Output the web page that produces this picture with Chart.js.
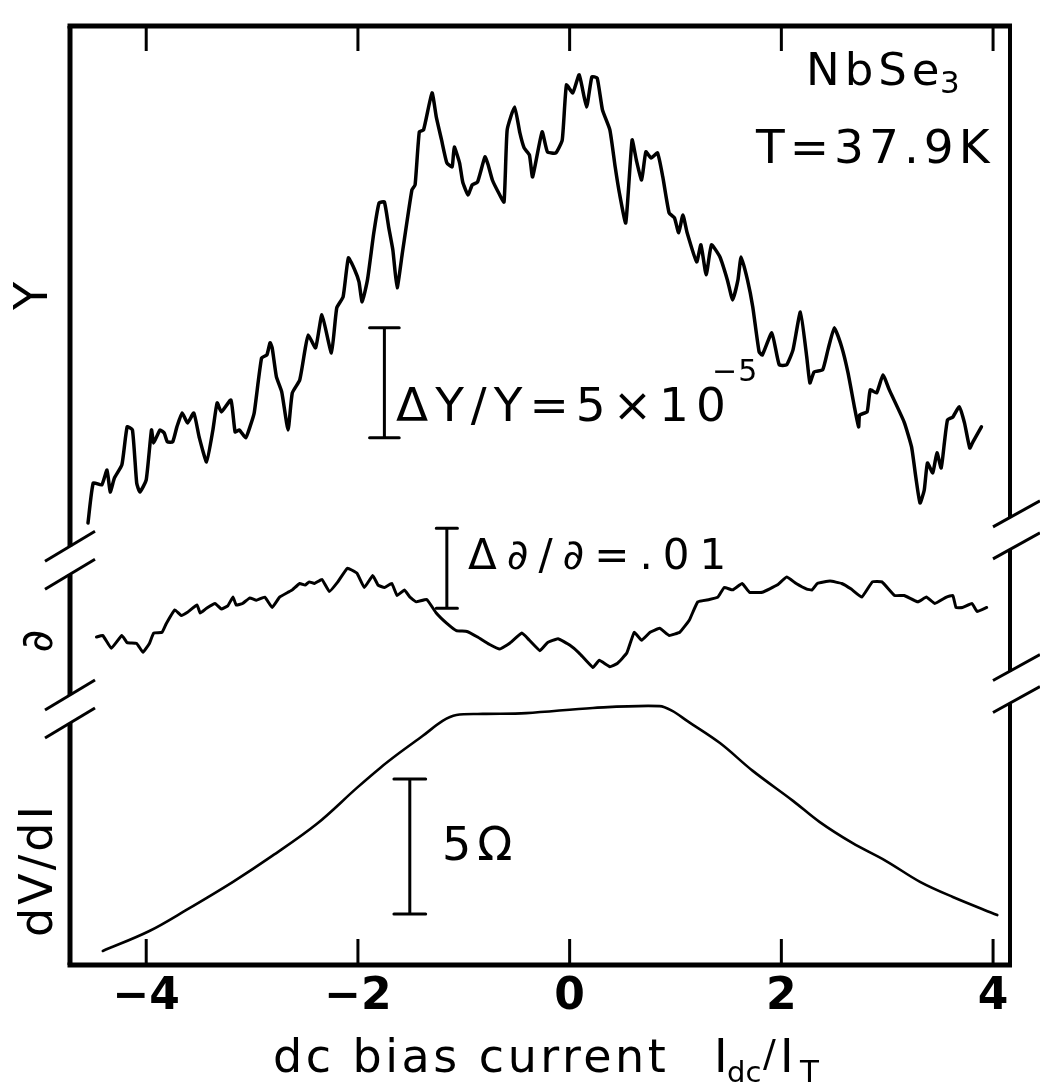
<!DOCTYPE html>
<html>
<head>
<meta charset="utf-8">
<script src="https://cdn.jsdelivr.net/npm/chart.js@4.4.1/dist/chart.umd.min.js"></script>
<style>
  html, body { margin: 0; padding: 0; background: #fff; }
</style>
</head>
<body>
<canvas id="chart" width="1040" height="1084"></canvas>
<script>
// NbSe3, T = 37.9 K: Young's modulus Y, internal friction δ and dV/dI vs dc bias current

const xTicks = [-4, -2, 0, 2, 4];
const xRange = [-4.72, 4.16];

// Y trace, ΔY/Y in units of 1e-5 (relative to the left end)
const yModX = [-4.55, -4.50, -4.42, -4.37, -4.34, -4.30, -4.23, -4.18, -4.13, -4.09, -4.06, -4.00, -3.95, -3.93, -3.87,
  -3.83, -3.80, -3.75, -3.71, -3.66, -3.61, -3.55, -3.50, -3.43, -3.37, -3.33, -3.29, -3.20, -3.16, -3.12, -3.06,
  -3.02, -2.98, -2.91, -2.86, -2.83, -2.81, -2.77, -2.72, -2.66, -2.62, -2.55, -2.50, -2.47, -2.40, -2.34, -2.25,
  -2.20, -2.14, -2.09, -2.03, -1.99, -1.96, -1.91, -1.85, -1.80, -1.75, -1.71, -1.67, -1.63, -1.58, -1.49, -1.46,
  -1.42, -1.38, -1.30, -1.26, -1.21, -1.16, -1.11, -1.09, -1.04, -1.01, -0.96, -0.92, -0.87, -0.80, -0.77, -0.73,
  -0.67, -0.62, -0.59, -0.52, -0.47, -0.43, -0.38, -0.35, -0.26, -0.21, -0.13, -0.07, -0.03, 0.03, 0.09, 0.16,
  0.21, 0.26, 0.31, 0.38, 0.43, 0.47, 0.53, 0.59, 0.63, 0.68, 0.72, 0.77, 0.83, 0.88, 0.94, 0.99, 1.03, 1.07,
  1.11, 1.20, 1.24, 1.29, 1.34, 1.42, 1.49, 1.54, 1.59, 1.62, 1.68, 1.73, 1.79, 1.82, 1.91, 1.98, 2.05, 2.11,
  2.18, 2.24, 2.27, 2.31, 2.39, 2.44, 2.50, 2.57, 2.63, 2.69, 2.73, 2.74, 2.81, 2.84, 2.90, 2.96, 3.02, 3.16,
  3.23, 3.27, 3.31, 3.35, 3.38, 3.43, 3.47, 3.51, 3.54, 3.57, 3.62, 3.68, 3.73, 3.78, 3.81, 3.89];
const yModV = [-0.14, 1.68, 1.59, 2.27, 1.27, 1.91, 2.50, 4.23, 4.09, 1.68, 1.27, 1.82, 4.09, 3.50, 4.09,
  3.95, 3.55, 3.55, 4.23, 4.86, 4.41, 4.86, 3.77, 2.64, 4.09, 5.32, 4.91, 5.45, 4.00, 4.09, 3.73,
  4.23, 4.86, 7.36, 7.50, 8.05, 7.82, 6.50, 5.82, 4.09, 5.77, 6.36, 7.73, 8.41, 7.82, 9.32, 7.59,
  9.64, 10.14, 11.91, 11.36, 10.82, 9.91, 10.91, 13.05, 14.41, 14.45, 13.32, 12.27, 10.55, 12.14, 15.00, 15.23,
  17.64, 17.73, 19.41, 18.32, 17.27, 16.23, 16.05, 16.95, 16.23, 15.36, 14.77, 15.23, 15.36, 16.50, 16.14, 15.45,
  14.86, 14.45, 17.73, 18.77, 17.59, 16.91, 16.59, 15.59, 17.64, 16.73, 16.68, 17.27, 19.77, 19.41, 20.23, 18.77,
  20.14, 20.09, 18.64, 17.73, 16.05, 14.86, 13.50, 17.27, 16.36, 15.45, 16.73, 16.45, 16.68, 15.59, 13.95, 13.73, 13.05, 13.86,
  13.05, 11.73, 12.50, 11.14, 12.50, 11.95, 10.91, 10.00, 10.91, 11.95, 10.91, 9.68, 7.64, 7.50, 8.50, 7.05, 7.05, 7.73,
  9.45, 7.41, 6.23, 6.73, 6.82, 7.73, 8.73, 7.86, 6.68, 5.14, 4.23, 4.77, 4.91, 5.91, 5.77, 6.59, 5.91, 4.45,
  3.32, 1.95, 0.77, 1.36, 2.59, 2.14, 3.05, 2.36, 3.50, 4.55, 4.68, 5.14, 4.41, 3.27, 3.55, 4.23];

// δ trace, Δδ/δ in percent
const deltaX = [-4.47, -4.41, -4.33, -4.23, -4.18, -4.09, -4.03, -3.97, -3.93, -3.85, -3.81, -3.73, -3.67, -3.61,
  -3.52, -3.49, -3.43, -3.35, -3.29, -3.23, -3.18, -3.15, -3.09, -3.02, -2.96, -2.88, -2.81, -2.74, -2.66, -2.62,
  -2.55, -2.50, -2.46, -2.41, -2.34, -2.27, -2.19, -2.10, -2.01, -1.94, -1.86, -1.81, -1.75, -1.68, -1.63, -1.56,
  -1.51, -1.45, -1.35, -1.26, -1.16, -1.07, -0.97, -0.87, -0.76, -0.66, -0.57, -0.45, -0.38, -0.28, -0.21, -0.11,
  0.00, 0.09, 0.22, 0.28, 0.38, 0.45, 0.54, 0.61, 0.68, 0.76, 0.85, 0.94, 1.04, 1.13, 1.21, 1.32, 1.40, 1.46,
  1.54, 1.63, 1.70, 1.82, 1.96, 2.05, 2.14, 2.24, 2.29, 2.34, 2.46, 2.57, 2.66, 2.76, 2.86, 2.95, 3.07, 3.16,
  3.29, 3.37, 3.45, 3.56, 3.62, 3.65, 3.71, 3.80, 3.85, 3.94];
const deltaV = [-0.21, -0.19, -0.35, -0.19, -0.28, -0.29, -0.40, -0.29, -0.16, -0.15, -0.04, 0.13, 0.06, 0.10,
  0.19, 0.09, 0.15, 0.21, 0.14, 0.18, 0.29, 0.19, 0.21, 0.28, 0.25, 0.29, 0.16, 0.29, 0.35, 0.38,
  0.46, 0.44, 0.48, 0.46, 0.51, 0.36, 0.48, 0.65, 0.59, 0.41, 0.56, 0.44, 0.41, 0.46, 0.31, 0.38,
  0.29, 0.23, 0.26, 0.09, -0.04, -0.13, -0.14, -0.21, -0.30, -0.36, -0.29, -0.16, -0.25, -0.38, -0.28, -0.23,
  -0.31, -0.41, -0.59, -0.50, -0.58, -0.54, -0.41, -0.15, -0.25, -0.15, -0.10, -0.19, -0.15, 0.00, 0.23, 0.26, 0.29, 0.41,
  0.38, 0.46, 0.35, 0.35, 0.44, 0.54, 0.46, 0.39, 0.38, 0.46, 0.49, 0.46, 0.39, 0.29, 0.48, 0.48, 0.31, 0.31,
  0.23, 0.29, 0.21, 0.29, 0.31, 0.16, 0.16, 0.21, 0.11, 0.16];

// dV/dI trace, ohms (relative to the left end)
const dvdiX = [-4.41, -3.97, -3.62, -3.18, -2.81, -2.39, -2.01, -1.79, -1.61, -1.39, -1.20, -1.07, -0.82, -0.41,
  0.22, 0.85, 0.97, 1.11, 1.42, 1.73, 2.11, 2.36, 2.67, 2.99, 3.31, 3.62, 4.04];
const dvdiV = [0.00, 0.74, 1.52, 2.56, 3.52, 4.70, 6.04, 6.78, 7.33, 7.96, 8.52, 8.74, 8.78, 8.81,
  9.00, 9.07, 8.89, 8.52, 7.70, 6.67, 5.56, 4.78, 4.00, 3.33, 2.56, 2.00, 1.33];

// scale bars: [x, lower, upper] in each trace's own units
const yModBar = [-1.75, 3.73, 8.73];
const deltaBar = [-1.16, 0.15, 1.15];
const ohmBar = [-1.51, 1.37, 6.37];

// vertical ranges of the three stacked traces
const yModRange = [-20.23, 22.45];
const deltaRange = [-4.31, 7.43];
const dvdiRange = [-0.52, 34.26];

const FONT = '"DejaVu Sans", Verdana, sans-serif';

const zip = (xs, ys) => xs.map((x, i) => ({ x: x, y: ys[i] }));

function barPoints(bar, cap) {
  const [x, lo, hi] = bar;
  return [
    { x: x - cap, y: hi }, { x: x + cap, y: hi }, { x: x, y: null },
    { x: x, y: hi }, { x: x, y: lo }, { x: x, y: null },
    { x: x - cap, y: lo }, { x: x + cap, y: lo }
  ];
}

function trace(data, axis, width, tension) {
  return {
    data: data,
    yAxisID: axis,
    borderColor: '#000',
    borderWidth: width,
    pointRadius: 0,
    tension: tension,
    spanGaps: false,
    borderJoinStyle: 'round',
    borderCapStyle: 'round'
  };
}

function line(ctx, x1, y1, x2, y2) {
  ctx.beginPath();
  ctx.moveTo(x1, y1);
  ctx.lineTo(x2, y2);
  ctx.stroke();
}

// frame with axis breaks and inward ticks
const framePlugin = {
  id: 'frame',
  afterDatasetsDraw(chart) {
    const { ctx, chartArea: a, scales } = chart;
    const yD = scales.yD;
    const leftBreaks = [0.75, -1.11].map(v => yD.getPixelForValue(v));
    const rightBreaks = [1.08, -0.84].map(v => yD.getPixelForValue(v));
    ctx.save();
    ctx.strokeStyle = '#000';
    ctx.lineCap = 'butt';

    ctx.lineWidth = 5;
    line(ctx, a.left - 2.5, a.top, a.right + 2, a.top);
    line(ctx, a.left - 2.5, a.bottom, a.right + 2, a.bottom);

    // vertical sides, interrupted at the breaks
    const side = (x, breaks, gap) => {
      let y = a.top;
      for (const b of breaks) {
        line(ctx, x, y, x, b - gap);
        y = b + gap;
      }
      line(ctx, x, y, x, a.bottom);
    };
    side(a.left, leftBreaks, 14);
    ctx.lineWidth = 4;
    side(a.right, rightBreaks, 16);

    ctx.lineWidth = 3;
    for (const b of leftBreaks) {
      for (const s of [-14, 14]) line(ctx, a.left - 25, b + s + 15, a.left + 25, b + s - 15);
    }
    for (const b of rightBreaks) {
      for (const s of [-16, 16]) line(ctx, a.right - 17, b + s + 9, a.right + 30, b + s - 17);
    }

    for (const v of xTicks) {
      const px = scales.x.getPixelForValue(v);
      line(ctx, px, a.bottom, px, a.bottom - 26);
      line(ctx, px, a.top, px, a.top + 25);
    }
    ctx.restore();
  }
};

function put(ctx, str, x, y, size, spacing) {
  ctx.font = size + 'px ' + FONT;
  ctx.letterSpacing = spacing + 'px';
  ctx.fillText(str, x, y);
}

function putRotated(ctx, str, cx, cy, size, spacing) {
  ctx.save();
  ctx.translate(cx, cy);
  ctx.rotate(-Math.PI / 2);
  ctx.font = size + 'px ' + FONT;
  ctx.letterSpacing = spacing + 'px';
  ctx.textAlign = 'center';
  ctx.fillText(str, 0, size * 0.36);
  ctx.restore();
}

// sample name, temperature, scale-bar captions and axis labels
const notesPlugin = {
  id: 'notes',
  afterDraw(chart) {
    const ctx = chart.ctx;
    ctx.save();
    ctx.fillStyle = '#000';
    ctx.textBaseline = 'alphabetic';
    ctx.textAlign = 'left';

    put(ctx, 'NbSe', 806, 85, 45, 5);
    put(ctx, '3', 940, 93, 31, 0);
    put(ctx, 'T=37.9K', 756, 163, 47, 5);

    put(ctx, 'ΔY/Y=5×10', 396, 421, 47, 7);
    put(ctx, '−5', 712, 381, 30, 1);
    put(ctx, 'Δ∂/∂=.01', 468, 569, 42, 10);
    put(ctx, '5Ω', 442, 860, 46, 6);

    putRotated(ctx, 'Y', 30, 296, 46, 0);
    putRotated(ctx, '∂', 36, 641, 44, 0);
    putRotated(ctx, 'dV/dI', 35, 870, 46, 3);

    put(ctx, 'dc bias current', 273, 1072, 46, 3.5);
    put(ctx, 'I', 714, 1072, 46, 0);
    put(ctx, 'dc', 727, 1082, 29, 0);
    put(ctx, '/', 763, 1066, 38, 0);
    put(ctx, 'I', 780, 1072, 46, 0);
    put(ctx, 'T', 800, 1082, 31, 0);
    ctx.restore();
  }
};

new Chart(document.getElementById('chart'), {
  type: 'line',
  data: {
    datasets: [
      trace(zip(yModX, yModV), 'yY', 3.5, 0.15),
      trace(zip(deltaX, deltaV), 'yD', 3, 0.1),
      trace(zip(dvdiX, dvdiV), 'yR', 2.6, 0.35),
      trace(barPoints(yModBar, 0.14), 'yY', 3, 0),
      trace(barPoints(deltaBar, 0.1), 'yD', 3, 0),
      trace(barPoints(ohmBar, 0.15), 'yR', 3, 0)
    ]
  },
  options: {
    responsive: false,
    animation: false,
    devicePixelRatio: 1,
    layout: { padding: { left: 70, right: 30, top: 26, bottom: 0 } },
    plugins: { legend: { display: false }, tooltip: { enabled: false } },
    scales: {
      x: {
        type: 'linear',
        min: xRange[0],
        max: xRange[1],
        grid: { display: false, drawTicks: false },
        border: { display: false },
        ticks: {
          color: '#000',
          padding: 6,
          font: { family: FONT, size: 44, weight: 'bold' },
          callback: v => (v < 0 ? '\u2212' + Math.abs(v) : String(v))
        },
        afterBuildTicks: s => { s.ticks = xTicks.map(v => ({ value: v })); },
        afterFit: s => { s.height = 119; }
      },
      yY: { type: 'linear', display: false, min: yModRange[0], max: yModRange[1] },
      yD: { type: 'linear', display: false, min: deltaRange[0], max: deltaRange[1] },
      yR: { type: 'linear', display: false, min: dvdiRange[0], max: dvdiRange[1] }
    }
  },
  plugins: [framePlugin, notesPlugin]
});
</script>
</body>
</html>
